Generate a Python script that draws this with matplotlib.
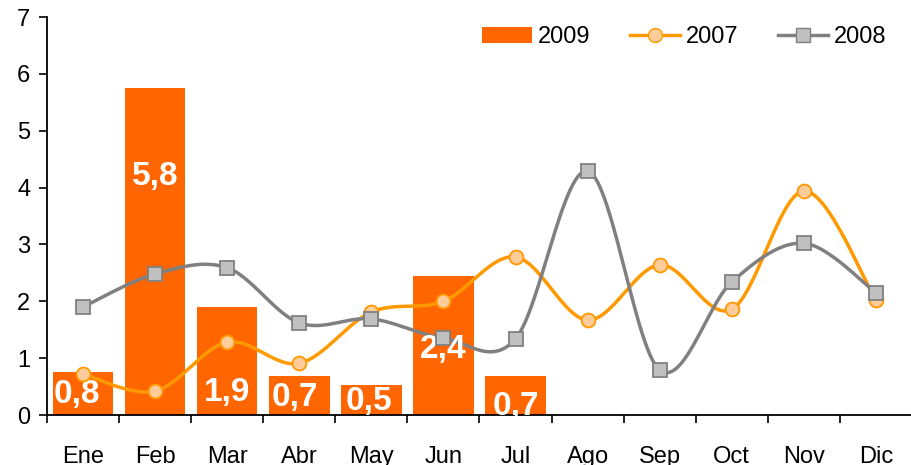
import numpy as np
import matplotlib
matplotlib.use("Agg")
import matplotlib.pyplot as plt

plt.rcParams['font.family'] = ['Liberation Sans', 'DejaVu Sans']

# data
months = ['Ene', 'Feb', 'Mar', 'Abr', 'May', 'Jun', 'Jul', 'Ago', 'Sep', 'Oct', 'Nov', 'Dic']
vals_2009 = [0.76, 5.75, 1.90, 0.69, 0.53, 2.44, 0.69]
labels_2009 = ['0,8', '5,8', '1,9', '0,7', '0,5', '2,4', '0,7']
vals_2007 = [0.72, 0.42, 1.28, 0.91, 1.81, 2.00, 2.78, 1.67, 2.64, 1.86, 3.94, 2.02]
vals_2008 = [1.90, 2.48, 2.59, 1.62, 1.69, 1.35, 1.34, 4.29, 0.79, 2.34, 3.02, 2.15]

# where the bar labels sit (baseline, data units) and small x nudges
label_base = [0.21, 4.05, 0.25, 0.16, 0.09, 1.0, 0.0]
label_dx = [-0.09, 0, 0, -0.06, -0.03, 0, 0]


def smooth(x, y, n=30):
    # Excel style smoothed line: cubic bezier through the points (catmull-rom)
    x = np.asarray(x, float)
    y = np.asarray(y, float)
    p = np.column_stack([x, y])
    p = np.vstack([p[0], p, p[-1]])
    out = []
    t = np.linspace(0, 1, n)
    for i in range(1, len(p) - 2):
        p0, p1, p2, p3 = p[i - 1], p[i], p[i + 1], p[i + 2]
        c1 = p1 + (p2 - p0) / 6
        c2 = p2 - (p3 - p1) / 6
        seg = ((1 - t) ** 3)[:, None] * p1 + (3 * (1 - t) ** 2 * t)[:, None] * c1 \
            + (3 * (1 - t) * t ** 2)[:, None] * c2 + (t ** 3)[:, None] * p2
        out.append(seg if i == 1 else seg[1:])
    s = np.vstack(out)
    return s[:, 0], s[:, 1]


fig = plt.figure(figsize=(9.12, 4.65), dpi=100)
ax = fig.add_axes([47 / 912, 50 / 465, 865 / 912, 398 / 465])

x = np.arange(len(months))
xb = np.arange(len(vals_2009))
bars = ax.bar(xb, vals_2009, width=0.84, color='#FF6600', label='2009', zorder=2)
for xi, lab, ly, dx in zip(xb, labels_2009, label_base, label_dx):
    ax.text(xi + dx, ly, lab, color='white', fontsize=24, fontweight='bold',
            ha='center', va='baseline', zorder=3.5)

sx, sy = smooth(x, vals_2007)
ax.plot(sx, sy, color='#FF9900', lw=2.5, zorder=3)
ax.plot(x, vals_2007, ls='none', marker='o', ms=10, mfc='#FFCC99', mec='#FF9900', mew=1.3, zorder=4)
sx, sy = smooth(x, vals_2008)
ax.plot(sx, sy, color='#808080', lw=2.5, zorder=3)
ax.plot(x, vals_2008, ls='none', marker='s', ms=10, mfc='#C0C0C0', mec='#808080', mew=1.3, zorder=4)

# legend proxies
h07, = ax.plot([], [], color='#FF9900', lw=2.5, marker='o', ms=10, mfc='#FFCC99', mec='#FF9900')
h08, = ax.plot([], [], color='#808080', lw=2.5, marker='s', ms=10, mfc='#C0C0C0', mec='#808080')
ax.legend([bars[0], h07, h08], ['2009', '2007', '2008'], ncol=3, frameon=False, fontsize=17,
          loc='upper right', bbox_to_anchor=(0.995, 1.03), handlelength=2.1, columnspacing=1.7,
          handletextpad=0.25)

ax.set_xlim(-0.5, len(months) - 0.5)
ax.set_ylim(0, 7)
ax.set_yticks(range(8))
ax.set_xticks(x)
ax.set_xticklabels(months)
ax.set_xticks(np.arange(-0.5, len(months)), minor=True)
ax.tick_params(axis='x', which='major', length=0, pad=22, labelsize=17)
ax.tick_params(axis='x', which='minor', length=6, width=1.2)
ax.tick_params(axis='y', length=6, width=1.2, labelsize=17, pad=6)
for s in ['top', 'right']:
    ax.spines[s].set_visible(False)
ax.spines['left'].set_linewidth(1.3)
ax.spines['bottom'].set_linewidth(1.3)

fig.savefig('out.png', dpi=100)
